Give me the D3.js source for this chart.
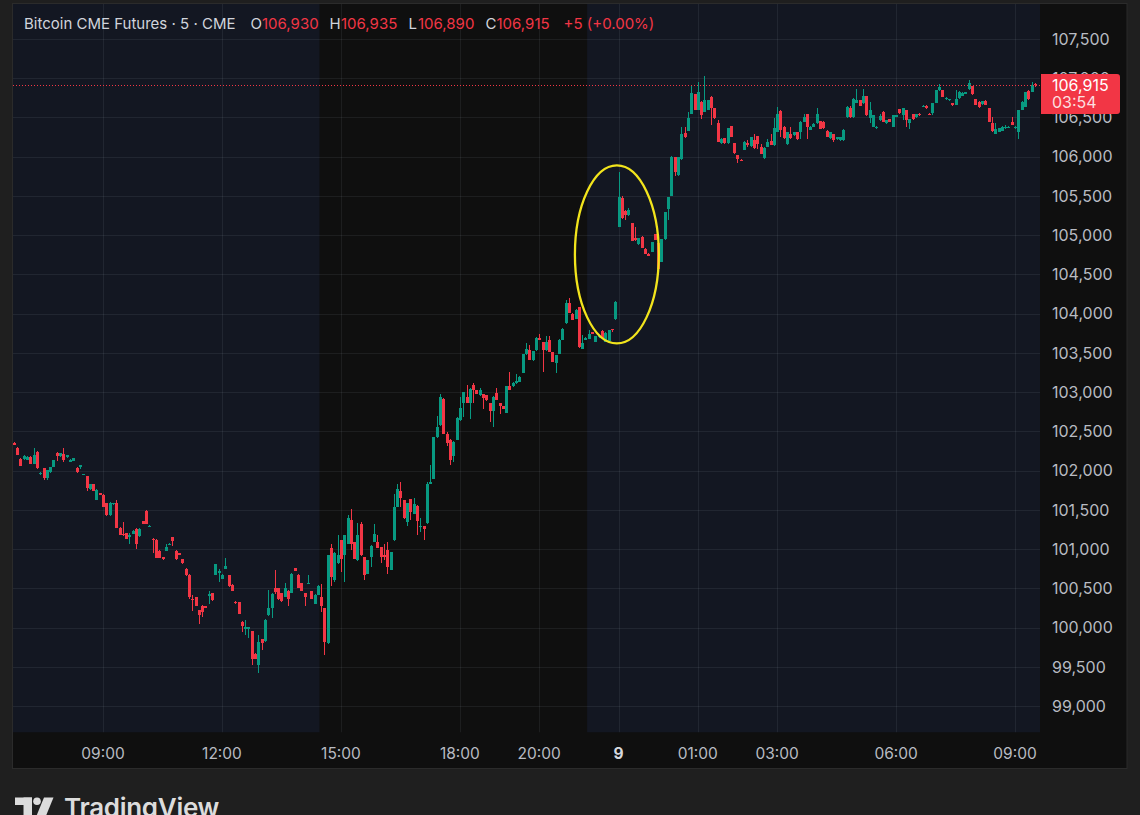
<!DOCTYPE html>
<html><head><meta charset="utf-8">
<script src="https://cdn.jsdelivr.net/npm/d3@7"></script>
<style>html,body{margin:0;padding:0;background:#1f1f1f;overflow:hidden}svg{display:block}</style>
</head><body><svg id="c" width="1140" height="815"></svg>
<script>
// ---------- DATA (5-minute bars, bar 0 = 06:45, bar 183 = first bar of the 9th) ----------
const opens = [
102355,102290,102150,102150,102140,102175,102090,102235,101955,102030,
101905,101980,102045,102225,102185,102215,102170,102115,102125,102035,
102045,101945,101925,101760,101825,101630,101715,101695,101585,101430,
101570,101585,101270,101195,101205,101150,101195,101260,101165,101355,
101490,101295,101130,101120,100980,100895,100980,101065,101150,100980,
100950,100870,100750,100675,100365,100390,100220,100280,100270,100405,
100440,100675,100695,100620,100750,100665,100545,100330,100325,100075,
99985,99985,99950,99665,99525,99850,99825,100155,100250,100505,
100505,100440,100395,100470,100440,100755,100675,100565,100440,100560,
100465,100300,100415,100390,100245,99800,101010,100600,100820,101110,
100920,101070,101365,101090,100855,101325,100900,100685,100905,101090,
101090,101025,100930,100990,100735,101110,101535,101740,101620,101345,
101635,101450,101555,101290,101290,101330,101835,101895,102425,102575,
102915,102465,102395,102180,102395,102640,102855,102940,102855,103085,
103025,102960,102975,102960,102860,102760,102990,102860,102820,102740,
103075,103075,103110,103130,103245,103480,103540,103405,103535,103690,
103640,103535,103670,103510,103370,103485,103670,103875,104140,104000,
103935,104080,103555,103670,103680,103760,103640,103700,103785,103640,
103655,103800,103930,105105,105470,105310,105255,105155,104960,104885,
104980,104830,104765,104790,105015,104895,104660,104945,105330,105500,
105990,105765,105965,106305,106330,106545,106800,106595,106700,106575,
106595,106765,106615,106435,106170,106235,106170,106390,106170,106020,
105960,106085,106170,106135,106210,106265,106120,105980,106125,106200,
106145,106320,106585,106380,106160,106295,106275,106315,106315,106445,
106545,106340,106380,106425,106450,106445,106330,106235,106290,106220,
106210,106210,106500,106615,106500,106690,106720,106680,106770,106490,
106380,106360,106465,106575,106425,106475,106380,106505,106605,106530,
106595,106435,106545,106500,106550,106635,106650,106550,106560,106685,
106845,106850,106730,106720,106680,106660,106745,106775,106805,106860,
106900,106730,106700,106670,106715,106615,106425,106295,106320,106330,
106360,106370,106445,106360,106320,106595,106635,106840,106830,106930];
const highs = [
102365,102300,102160,102195,102180,102185,102285,102250,101980,102035,
102010,102050,102140,102235,102230,102290,102205,102145,102165,102040,
102070,101960,101930,101830,101830,101760,101720,101700,101590,101595,
101590,101630,101275,101340,101210,101205,101240,101265,101265,101360,
101495,101305,101135,101125,100985,100900,101065,101075,101155,100985,
100955,100875,100755,100680,100410,100395,100225,100285,100275,100470,
100445,100810,100750,100680,100885,100670,100550,100335,100330,100080,
100090,100010,99955,99670,99905,99855,100105,100480,100435,100735,
100510,100445,100570,100475,100690,100760,100680,100570,100445,100665,
100470,100425,100540,100555,100250,100925,101060,100965,101175,101115,
101180,101430,101515,101095,101335,101345,100905,100860,101050,101325,
101175,101030,101070,101090,100965,101705,101835,101855,101625,101590,
101640,101655,101560,101400,101295,101855,102065,102430,102690,102980,
102920,102490,102400,102375,102680,102940,103005,103085,103050,103115,
103030,103055,102980,102965,102865,102945,103055,102865,102825,103080,
103255,103125,103225,103200,103485,103620,103595,103530,103700,103745,
103645,103715,103715,103515,103475,103675,103815,104170,104205,104005,
104055,104085,103725,103700,103790,103765,103715,103725,103790,103760,
103795,103810,104155,105810,105500,105320,105340,105160,105100,104970,
104985,104835,104770,104915,105020,104900,104950,105300,105490,106010,
105995,105995,106380,106380,106575,106900,106805,106955,106705,107030,
106725,106770,106620,106470,106235,106240,106365,106395,106175,106025,
105965,106195,106210,106255,106290,106270,106165,106120,106220,106290,
106490,106630,106590,106385,106320,106380,106320,106320,106450,106550,
106550,106385,106425,106615,106455,106450,106335,106320,106295,106250,
106255,106350,106640,106645,106745,106860,106725,106860,106775,106700,
106535,106385,106550,106580,106470,106480,106535,106535,106610,106625,
106600,106480,106550,106545,106555,106655,106655,106555,106690,106850,
106925,106855,106755,106740,106685,106850,106840,106820,106830,106975,
106905,106735,106705,106715,106720,106620,106510,106425,106365,106385,
106405,106385,106500,106385,106595,106705,106830,106845,106955,106935];
const lows = [
102325,102195,102055,102130,102130,102085,102085,102020,101945,101885,
101880,101970,102040,102120,102175,102115,102160,102110,102120,101975,
102015,101940,101745,101755,101735,101625,101685,101530,101425,101425,
101565,101265,101175,101170,101125,101065,101190,101005,101160,101315,
101315,101290,100950,100885,100885,100855,100975,101060,101035,100855,
100925,100815,100660,100365,100215,100275,100040,100130,100245,100300,
100340,100670,100580,100615,100745,100520,100460,100305,100170,99940,
99900,99870,99525,99595,99420,99715,99820,100150,100120,100430,
100355,100330,100390,100280,100435,100720,100500,100465,100280,100555,
100360,100295,100410,100195,99650,99795,100535,100580,100815,100705,
100580,101065,100985,100870,100850,100915,100600,100680,100770,101085,
101010,100820,100865,100685,100730,101105,101530,101535,101385,101300,
101365,101445,101175,101215,101120,101325,101830,101890,102420,102570,
102460,102310,102065,102110,102390,102635,102685,102855,102660,102855,
102975,102955,102790,102890,102620,102550,102900,102725,102780,102735,
103025,103070,103105,103125,103240,103475,103410,103400,103530,103665,
103255,103530,103505,103380,103245,103480,103665,103870,104005,103920,
103930,103565,103550,103665,103675,103740,103635,103695,103690,103635,
103650,103770,103925,105100,105210,105190,105250,104925,104925,104880,
104835,104755,104730,104785,104935,104565,104655,104940,105190,105495,
105750,105760,105960,106240,106325,106540,106590,106590,106475,106570,
106590,106405,106485,106185,106165,106165,106165,106250,106040,105915,
105940,106080,106125,106130,106100,106095,106030,105975,106120,106145,
106140,106315,106255,106230,106155,106230,106270,106215,106220,106440,
106220,106335,106375,106420,106350,106355,106250,106230,106190,106215,
106205,106205,106495,106495,106495,106685,106640,106675,106525,106425,
106375,106350,106460,106440,106420,106440,106375,106500,106550,106465,
106380,106350,106470,106495,106525,106630,106610,106535,106530,106680,
106840,106760,106725,106715,106645,106655,106740,106770,106800,106855,
106790,106655,106615,106665,106655,106440,106320,106285,106315,106325,
106355,106365,106400,106355,106220,106590,106630,106725,106825,106890];
const closes = [
102330,102200,102060,102180,102170,102090,102200,102030,101970,101910,
102005,102045,102130,102180,102225,102130,102200,102140,102160,101980,
102065,101955,101775,101825,101740,101755,101690,101535,101430,101590,
101585,101270,101180,101175,101130,101175,101235,101065,101260,101320,
101320,101300,101120,100890,100890,100875,101030,101070,101100,100875,
100930,100820,100665,100390,100345,100280,100160,100195,100250,100425,
100345,100805,100720,100675,100785,100525,100465,100310,100175,100015,
100005,100005,99600,99600,99820,99800,100100,100250,100430,100450,
100360,100335,100505,100360,100685,100725,100505,100470,100385,100565,
100365,100420,100535,100280,99820,100920,100640,100950,100925,100875,
101175,101400,101070,100875,101175,100920,100665,100855,101045,101190,
101015,100905,100900,100770,100960,101535,101770,101655,101390,101585,
101470,101580,101355,101300,101260,101835,101860,102425,102555,102940,
102465,102350,102130,102370,102675,102800,103000,102860,103045,103025,
102980,103025,102930,102895,102760,102940,102905,102825,102785,103075,
103030,103120,103145,103195,103480,103555,103415,103525,103695,103670,
103535,103640,103510,103385,103470,103670,103810,104130,104010,103925,
104050,103570,103625,103695,103745,103745,103710,103720,103695,103755,
103790,103790,104150,105490,105215,105255,105320,104930,104935,104965,
104840,104760,104735,104910,104940,104570,104945,105295,105485,105995,
105800,105990,106295,106245,106490,106815,106595,106830,106530,106720,
106720,106615,106490,106190,106230,106170,106360,106255,106045,105965,
105945,106190,106150,106250,106105,106160,106035,106115,106190,106150,
106360,106545,106340,106235,106315,106235,106315,106220,106445,106510,
106380,106380,106420,106550,106355,106360,106255,106315,106210,106245,
106250,106345,106635,106500,106740,106720,106645,106770,106530,106595,
106530,106380,106520,106445,106465,106445,106530,106530,106555,106620,
106465,106475,106475,106540,106530,106650,106615,106540,106685,106845,
106890,106765,106750,106735,106665,106730,106830,106815,106825,106935,
106795,106660,106635,106710,106660,106445,106325,106350,106360,106380,
106380,106380,106405,106380,106590,106700,106825,106730,106910,106915];

const priceTicks = [99000,99500,100000,100500,101000,101500,102000,102500,103000,103500,104000,104500,105000,105500,106000,106500,107000,107500];
const timeTickBars = [27,63,99,135,159,183,207,231,267,303];
const timeTickLabels = ["09:00","12:00","15:00","18:00","20:00","9","01:00","03:00","06:00","09:00"];
const dayStartLabel = "9";
const regularSessionBars = [93,173];          // darker (regular hours) background
const titleText = "Bitcoin CME Futures · 5 · CME";
const legendKeys = ["O","H","L","C"];
const legendVals = ["106,930","106,935","106,890","106,915"];
const changeText = "+5 (+0.00%)";
const lastPrice = 106915;
const countdown = "03:54";
const gapEllipse = {bar:182.5, price:104755, halfBars:12.7, halfPrice:1135};

// ---------- LAYOUT ----------
const W=1140,H=815;
const plot={l:13,r:1040,t:4,b:732.5};
const panel={l:12.5,r:1127,t:3.5,b:768.5};
const UP="#089981", DOWN="#f23645";
const FONT="Inter, 'Noto Sans', sans-serif";

const svg=d3.select("#c");
svg.append("rect").attr("width",W).attr("height",H).attr("fill","#1f1f1f");
svg.append("rect").attr("x",panel.l).attr("y",panel.t).attr("width",panel.r-panel.l).attr("height",panel.b-panel.t)
  .attr("fill","#0f0f0f").attr("stroke","#2b2b2b").attr("stroke-width",1);

const x=d3.scaleLinear().domain([-0.25,310.55]).range([plot.l,plot.r]);
const y=d3.scaleLinear().domain([99000,107500]).range([706,39]);

svg.append("clipPath").attr("id","pc").append("rect")
  .attr("x",plot.l).attr("y",plot.t).attr("width",plot.r-plot.l).attr("height",plot.b-plot.t);
const g=svg.append("g").attr("clip-path","url(#pc)");

// session backgrounds
g.append("rect").attr("x",plot.l).attr("y",plot.t).attr("width",x(regularSessionBars[0]-0.5)-plot.l).attr("height",plot.b-plot.t).attr("fill","#131722");
g.append("rect").attr("x",x(regularSessionBars[1]+0.5)).attr("y",plot.t).attr("width",plot.r-x(regularSessionBars[1]+0.5)).attr("height",plot.b-plot.t).attr("fill","#131722");

// grid
const gridCol="rgba(220,225,240,0.075)";
g.selectAll(".hg").data(priceTicks).join("line")
  .attr("x1",plot.l).attr("x2",plot.r).attr("y1",d=>Math.round(y(d))+0.5).attr("y2",d=>Math.round(y(d))+0.5)
  .attr("stroke",gridCol).attr("stroke-width",1);
g.selectAll(".vg").data(timeTickBars).join("line")
  .attr("y1",plot.t).attr("y2",plot.b).attr("x1",d=>Math.round(x(d))+0.5).attr("x2",d=>Math.round(x(d))+0.5)
  .attr("stroke",gridCol).attr("stroke-width",1);

// candles
const idx=d3.range(opens.length);
const cg=g.append("g").attr("shape-rendering","crispEdges");
cg.selectAll(".wick").data(idx).join("rect")
  .attr("x",i=>Math.round(x(i)))
  .attr("width",1)
  .attr("y",i=>y(highs[i]))
  .attr("height",i=>Math.max(1,y(lows[i])-y(highs[i])))
  .attr("fill",i=>closes[i]>=opens[i]?UP:DOWN);
cg.selectAll(".body").data(idx).join("rect")
  .attr("x",i=>Math.round(x(i))-1)
  .attr("width",3)
  .attr("y",i=>y(Math.max(opens[i],closes[i])))
  .attr("height",i=>Math.max(1,Math.abs(y(opens[i])-y(closes[i]))))
  .attr("fill",i=>closes[i]>=opens[i]?UP:DOWN);

// last price dotted line
g.append("line").attr("x1",plot.l).attr("x2",plot.r)
  .attr("y1",Math.round(y(lastPrice))+0.5).attr("y2",Math.round(y(lastPrice))+0.5)
  .attr("stroke",DOWN).attr("stroke-width",1).attr("stroke-dasharray","1,2");

// gap ellipse annotation
g.append("ellipse")
  .attr("cx",x(gapEllipse.bar)).attr("cy",y(gapEllipse.price))
  .attr("rx",x(gapEllipse.bar+gapEllipse.halfBars)-x(gapEllipse.bar))
  .attr("ry",y(gapEllipse.price-gapEllipse.halfPrice)-y(gapEllipse.price))
  .attr("fill","none").attr("stroke","#f2e41c").attr("stroke-width",2.3);

// price axis labels
svg.selectAll(".pl").data(priceTicks).join("text")
  .attr("x",1052).attr("y",d=>y(d)).attr("dy","0.36em")
  .attr("fill","#b8bbc2").attr("font-family",FONT).attr("font-size",16)
  .text(d=>d3.format(",")(d));

// last price tag
const ly=y(lastPrice);
svg.append("path")
  .attr("d",`M1041,${ly-11} H1117 a3,3 0 0 1 3,3 V${ly+26} a3,3 0 0 1 -3,3 H1041 Z`)
  .attr("fill",DOWN);
svg.append("text").attr("x",1052).attr("y",ly+6).attr("fill","#ffffff").attr("font-family",FONT).attr("font-size",16)
  .text(d3.format(",")(lastPrice));
svg.append("text").attr("x",1052).attr("y",ly+23.5).attr("fill","#ffffff").attr("fill-opacity",0.85).attr("font-family",FONT).attr("font-size",16)
  .text(countdown);

// time axis labels
svg.selectAll(".tl").data(timeTickBars).join("text")
  .attr("x",d=>x(d)).attr("y",753).attr("dy","0.36em").attr("text-anchor","middle")
  .attr("font-family",FONT).attr("font-size",15.5)
  .attr("font-weight",(d,i)=>timeTickLabels[i]===dayStartLabel?700:400)
  .attr("fill",(d,i)=>timeTickLabels[i]===dayStartLabel?"#d6d8de":"#b8bbc2")
  .text((d,i)=>timeTickLabels[i]);

// legend header
const hdr=svg.append("text").attr("y",28.5).attr("font-family",FONT).attr("font-size",15);
hdr.append("tspan").attr("x",24).attr("fill","#d1d4dc").text(titleText);
const keyX=[250.5,329.5,408.5,485.5], valX=[262,341,418,496.5];
legendKeys.forEach((k,i)=>{
  hdr.append("tspan").attr("x",keyX[i]).attr("fill","#d1d4dc").text(k);
  hdr.append("tspan").attr("x",valX[i]).attr("fill",DOWN).text(legendVals[i]);
});
hdr.append("tspan").attr("x",563.5).attr("fill",DOWN).text(changeText);

// TradingView logo
const lg=svg.append("g").attr("fill","#dcdcdc");
lg.append("rect").attr("x",15).attr("y",797.5).attr("width",17).attr("height",7.5);
lg.append("rect").attr("x",23.5).attr("y",797.5).attr("width",8.5).attr("height",20);
lg.append("circle").attr("cx",37).attr("cy",801.3).attr("r",3.8);
lg.append("path").attr("d","M44,797.5 L53.5,797.5 L45.5,817 L36,817 Z");
svg.append("text").attr("x",64).attr("y",816.5).attr("fill","#dcdcdc").attr("font-family",FONT)
  .attr("font-weight",600).attr("font-size",26).attr("letter-spacing",-0.3).text("TradingView");
</script></body></html>
